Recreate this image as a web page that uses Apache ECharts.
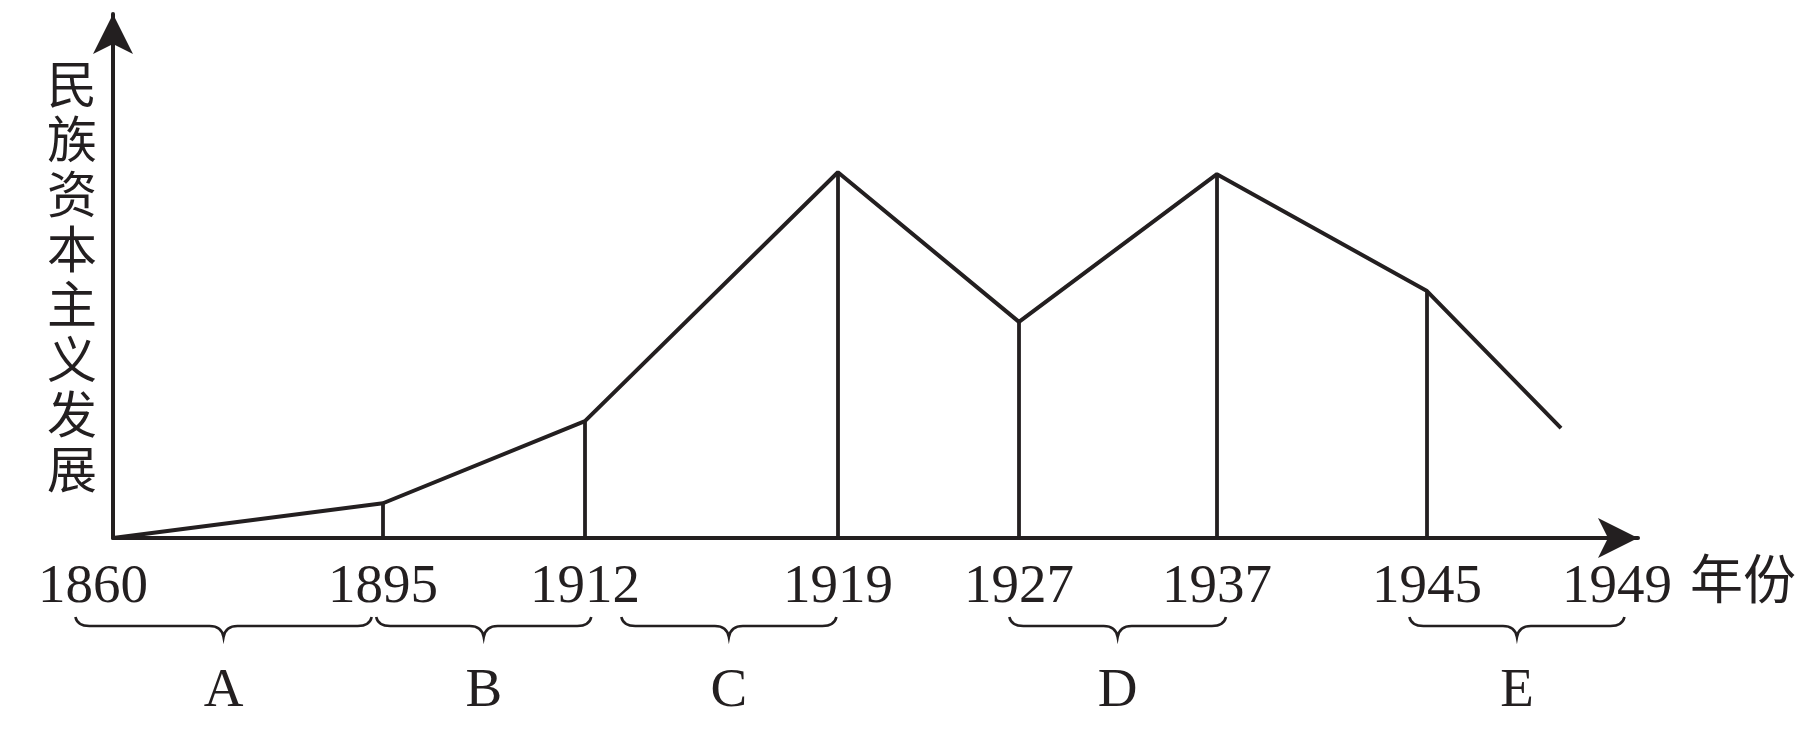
<!DOCTYPE html>
<html><head><meta charset="utf-8">
<script src="https://cdn.jsdelivr.net/npm/echarts@6/dist/echarts.min.js"></script>
<style>html,body{margin:0;padding:0;background:#fff}#c{width:1815px;height:739px}</style>
</head><body><div id="c"></div>
<script>
// Year tick labels and their place along the (schematic) time axis
const years   = ['1860', '1895', '1912', '1919', '1927', '1937', '1945', '1949'];
const yearPos = [0, 17.95, 31.38, 48.2, 60.24, 73.4, 87.37, 100];
// Development curve: place along the time axis and relative level
const linePos = [0, 17.95, 31.38, 48.2, 60.24, 73.4, 87.37, 96.28];
const level   = [0, 6.9, 23.2, 72.6, 42.9, 72.2, 49.0, 21.8];
// Points that get a vertical drop line to the time axis
const dropIdx = [1, 2, 3, 4, 5, 6];
// Stages (braces under the axis)
const stages     = ['A', 'B', 'C', 'D', 'E'];
const stageStart = [-2.5, 17.5, 33.8, 59.6, 86.2];
const stageEnd   = [17.2, 31.8, 48.1, 74.0, 100.5];
const yName = '民族资本主义发展';
const xName = '年份';

const INK = '#231f20';
const chart = echarts.init(document.getElementById('c'), null, {renderer: 'canvas'});

function yearLabel(v) {
  for (let i = 0; i < yearPos.length; i++) {
    if (Math.abs(yearPos[i] - v) < 1e-6) return i === 0 ? '{first|' + years[i] + '}' : years[i];
  }
  return '';
}

function renderBrace(params, api) {
  const p0 = api.coord([api.value(0), 0]);
  const p1 = api.coord([api.value(1), 0]);
  const base = p0[1];
  const a = p0[0], b = p1[0], m = (a + b) / 2;
  const yTop = base + 79, yMid = base + 88, yTip = base + 99;
  const r = 14;
  const d = 'M' + a + ',' + yTop +
    ' Q' + (a + 2) + ',' + yMid + ' ' + (a + r) + ',' + yMid +
    ' L' + (m - r) + ',' + yMid +
    ' Q' + (m - 2) + ',' + yMid + ' ' + m + ',' + yTip +
    ' Q' + (m + 2) + ',' + yMid + ' ' + (m + r) + ',' + yMid +
    ' L' + (b - r) + ',' + yMid +
    ' Q' + (b - 2) + ',' + yMid + ' ' + b + ',' + yTop;
  return {
    type: 'group',
    children: [
      {type: 'path', shape: {pathData: d}, style: {fill: 'none', stroke: INK, lineWidth: 2.6}},
      {type: 'text', x: m, y: base + 154,
        style: {text: stages[api.value(2)], fontSize: 55, fontFamily: '"Liberation Serif", serif',
          fill: INK, align: 'center', verticalAlign: 'middle'}}
    ]
  };
}

chart.setOption({
  animation: false,
  backgroundColor: '#fff',
  grid: {left: 113, right: 177, top: 14, bottom: 201, containLabel: false},
  xAxis: {
    type: 'value', min: 0, max: 101.4,
    name: xName, nameLocation: 'end', nameGap: 52,
    nameTextStyle: {fontSize: 53, fontFamily: '"Noto Sans CJK SC"', color: INK,
      verticalAlign: 'top', padding: [14, 0, 0, 0]},
    axisLine: {show: true, onZero: false, symbol: ['none', 'arrow'], symbolSize: [30, 40],
      lineStyle: {color: INK, width: 4}},
    axisTick: {show: false},
    splitLine: {show: false},
    axisLabel: {
      show: true, customValues: yearPos, margin: 22,
      fontSize: 55, lineHeight: 55, fontFamily: '"Liberation Serif", serif', color: INK,
      showMinLabel: true, showMaxLabel: true,
      formatter: yearLabel,
      rich: {first: {fontSize: 55, fontFamily: '"Liberation Serif", serif', color: INK, padding: [0, 40, 0, 0]}}
    }
  },
  yAxis: {
    type: 'value', min: 0, max: 104,
    name: yName.split('').join('\n'), nameLocation: 'middle', nameRotate: 0, nameGap: 16,
    nameTextStyle: {fontSize: 50, lineHeight: 55, fontFamily: '"Noto Sans CJK SC"', color: INK, align: 'right'},
    axisLine: {show: true, onZero: false, symbol: ['none', 'arrow'], symbolSize: [30, 40],
      lineStyle: {color: INK, width: 4}},
    axisTick: {show: false},
    axisLabel: {show: false},
    splitLine: {show: false}
  },
  series: [
    {
      type: 'line',
      data: linePos.map((p, i) => [p, level[i]]),
      symbol: 'none',
      lineStyle: {color: INK, width: 4},
      z: 3,
      markLine: {
        silent: true, symbol: ['none', 'none'],
        label: {show: false},
        lineStyle: {type: 'solid', color: INK, width: 3.8},
        data: dropIdx.map(i => [{coord: [linePos[i], 0]}, {coord: [linePos[i], level[i]]}])
      }
    },
    {
      type: 'custom',
      clip: false,
      silent: true,
      renderItem: renderBrace,
      data: stages.map((s, i) => [stageStart[i], stageEnd[i], i])
    }
  ]
});
</script>
</body></html>
